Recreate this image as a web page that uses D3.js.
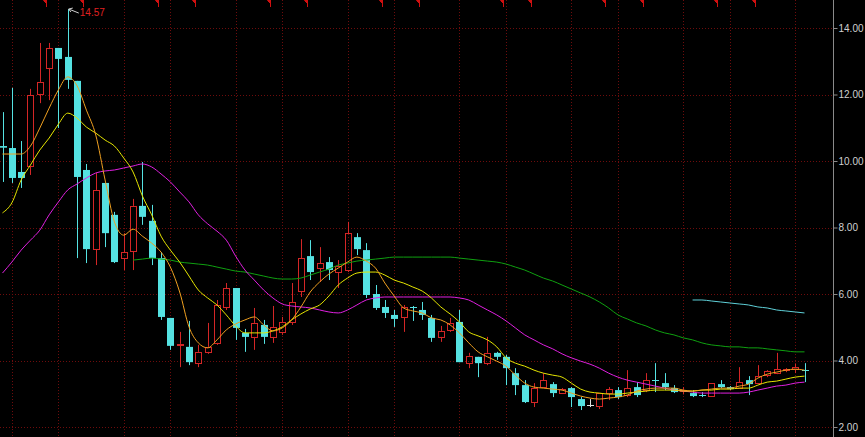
<!DOCTYPE html>
<html>
<head>
<meta charset="utf-8">
<script src="https://cdn.jsdelivr.net/npm/d3@7/dist/d3.min.js"></script>
<style>
html,body{margin:0;padding:0;background:#000;overflow:hidden;}
svg{display:block;}
</style>
</head>
<body>
<svg id="chart" width="865" height="437"></svg>
<script>
// ---------------- data ----------------
const openP  = [10.45,10.39,9.67,9.85,12.02,12.80,13.40,13.13,12.41,9.73,7.35,9.34,8.38,7.08,7.29,8.65,8.20,7.08,5.28,4.47,4.41,3.92,4.26,4.53,5.61,6.18,4.83,4.71,5.07,4.71,4.86,5.16,6.09,7.14,6.78,6.96,6.66,6.72,7.71,7.32,6.00,5.61,5.37,5.31,5.60,5.52,5.28,4.71,4.92,5.16,3.92,4.11,3.92,4.23,4.11,3.62,3.26,2.75,3.20,3.29,3.02,3.17,2.84,2.66,2.63,3.02,3.11,2.96,3.20,3.11,3.42,3.32,3.17,3.10,3.02,2.96,2.93,3.29,3.20,3.17,3.41,3.32,3.56,3.62,3.71,3.74,3.72];
const highP  = [11.47,12.20,10.60,12.17,13.55,13.55,13.40,14.57,12.41,9.91,9.64,9.34,8.47,7.83,8.86,9.97,8.68,7.26,5.28,4.86,5.19,4.47,5.13,5.82,6.33,6.18,4.95,5.58,5.22,5.64,5.31,6.33,7.65,7.62,7.41,7.11,7.02,8.17,7.83,7.53,6.27,5.82,5.52,5.67,5.64,5.76,5.37,5.04,5.28,5.52,4.23,4.11,4.71,4.26,4.17,3.77,3.41,3.32,3.62,3.35,3.17,3.20,2.90,2.84,3.02,3.20,3.20,3.71,3.35,3.62,3.92,3.62,3.26,3.20,3.11,3.05,3.32,3.41,3.23,3.80,3.53,3.86,3.71,4.23,3.77,3.90,3.92];
const lowP   = [9.37,9.34,9.19,9.58,11.74,11.83,10.99,12.17,7.08,6.93,6.87,7.41,6.93,6.72,6.72,8.08,6.87,5.22,4.32,3.80,3.86,3.80,4.20,4.47,5.52,4.62,4.26,4.32,4.50,4.53,4.77,5.07,5.91,6.42,6.36,6.42,6.18,6.66,7.17,5.88,5.52,5.28,5.01,4.86,5.19,5.22,4.56,4.56,4.86,3.95,3.77,3.50,3.86,4.02,3.26,2.96,2.72,2.60,3.17,2.90,3.00,2.60,2.51,2.60,2.54,2.81,2.84,2.90,2.90,3.05,3.05,3.11,3.02,2.98,2.90,2.90,2.93,3.17,3.11,3.17,2.96,3.32,3.50,3.59,3.65,3.62,3.35];
const closeP = [10.40,9.49,9.49,11.98,12.38,13.40,13.07,12.44,9.52,7.35,9.13,7.83,6.96,7.26,8.65,8.32,7.08,5.31,4.44,4.50,3.95,4.26,4.41,5.67,6.18,4.98,4.71,5.13,4.71,5.01,5.16,5.76,7.08,6.66,6.93,6.72,6.84,7.83,7.35,5.97,5.58,5.43,5.25,5.61,5.58,5.37,4.68,4.89,5.13,3.95,4.14,3.92,4.23,4.11,3.77,3.26,2.75,3.17,3.41,3.02,3.14,2.90,2.63,2.66,3.02,3.14,2.90,3.17,2.96,3.41,3.41,3.20,3.05,3.12,2.93,2.95,3.32,3.20,3.14,3.35,3.29,3.53,3.68,3.74,3.74,3.80,3.71];

const ma5  = [10.21,10.21,10.21,10.45,10.99,11.59,12.14,12.53,12.26,11.53,10.78,9.43,8.17,7.77,7.95,7.74,7.53,7.26,6.81,6.06,5.01,4.53,4.38,4.62,4.92,5.10,5.22,5.31,5.07,4.89,4.98,5.22,5.61,6.06,6.36,6.60,6.78,6.96,7.11,6.99,6.78,6.33,5.94,5.58,5.49,5.43,5.28,5.22,5.07,4.83,4.53,4.26,4.11,3.98,3.83,3.56,3.32,3.20,3.17,3.14,3.11,3.02,2.93,2.87,2.84,2.87,2.90,2.96,3.08,3.14,3.17,3.17,3.17,3.11,3.08,3.11,3.14,3.17,3.17,3.23,3.29,3.47,3.59,3.65,3.71,3.74,3.71];
const ma10 = [8.44,8.74,9.43,9.88,10.33,10.69,11.11,11.44,11.29,11.02,10.84,10.63,10.45,10.09,9.67,8.95,8.38,7.74,7.32,6.96,6.54,6.12,5.88,5.67,5.37,5.04,4.83,4.83,4.83,4.89,5.01,5.22,5.40,5.55,5.67,5.94,6.27,6.48,6.63,6.66,6.66,6.57,6.42,6.33,6.21,6.09,5.88,5.61,5.40,5.16,4.86,4.74,4.62,4.41,4.08,3.92,3.83,3.71,3.62,3.56,3.50,3.32,3.14,3.05,3.02,2.99,2.99,3.02,3.05,3.08,3.11,3.11,3.11,3.08,3.08,3.11,3.11,3.14,3.14,3.17,3.17,3.26,3.35,3.38,3.44,3.50,3.53];
const ma20 = [6.63,6.96,7.32,7.62,7.92,8.38,8.77,9.13,9.31,9.49,9.64,9.70,9.73,9.79,9.85,9.91,9.82,9.61,9.37,9.07,8.77,8.38,8.11,7.89,7.62,7.14,6.72,6.42,6.12,5.88,5.70,5.64,5.61,5.58,5.52,5.46,5.43,5.52,5.67,5.82,5.88,5.91,5.91,5.91,5.91,5.91,5.91,5.91,5.91,5.88,5.82,5.67,5.52,5.37,5.19,4.98,4.77,4.62,4.47,4.35,4.20,4.08,3.98,3.89,3.77,3.62,3.50,3.41,3.35,3.29,3.23,3.17,3.11,3.08,3.05,3.02,3.02,3.02,3.02,3.02,3.05,3.11,3.17,3.23,3.26,3.32,3.35];
const ma60 = [null,null,null,null,null,null,null,null,null,null,null,null,null,null,7.02,7.05,7.08,7.05,7.02,6.96,6.93,6.90,6.87,6.81,6.75,6.69,6.66,6.60,6.54,6.48,6.45,6.45,6.48,6.57,6.66,6.75,6.87,6.93,6.99,7.02,7.05,7.08,7.11,7.11,7.11,7.11,7.11,7.11,7.11,7.08,7.05,7.02,6.99,6.96,6.90,6.81,6.72,6.60,6.48,6.39,6.27,6.15,6.03,5.91,5.76,5.58,5.37,5.25,5.13,5.04,4.92,4.83,4.77,4.68,4.62,4.53,4.47,4.44,4.41,4.41,4.38,4.38,4.35,4.32,4.29,4.26,4.26];
const ma120 = [null,null,null,null,null,null,null,null,null,null,null,null,null,null,null,null,null,null,null,null,null,null,null,null,null,null,null,null,null,null,null,null,null,null,null,null,null,null,null,null,null,null,null,null,null,null,null,null,null,null,null,null,null,null,null,null,null,null,null,null,null,null,null,null,null,null,null,null,null,null,null,null,null,null,5.82,5.82,5.79,5.76,5.73,5.70,5.67,5.61,5.58,5.52,5.49,5.46,5.43];

const yTicks = [2, 4, 6, 8, 10, 12, 14];
const gridIdx = [1, 6, 13, 18, 25, 30, 37, 42, 49, 54, 61, 66, 73, 78, 85];
const markerIdx = [4, 8, 16, 20, 28, 32, 40, 44, 53, 56, 64, 68, 76, 80];
const peakIdx = 7;
const peakLabel = "14.57";

// ---------------- drawing ----------------
const W = 865, H = 437, axisX = 833;
const svg = d3.select("#chart");
const idx = d3.range(openP.length);
const x = d3.scaleLinear().domain([0, openP.length - 1]).range([2.5, 804.5]);
const y = d3.scaleLinear().domain([2, 14]).range([427, 28]);

svg.append("rect").attr("width", W).attr("height", H).attr("fill", "#000");

const grid = svg.append("g").attr("stroke", "#6e0c0c").attr("stroke-width", 1).attr("stroke-dasharray", "1,2");
grid.selectAll("line.h").data(yTicks).join("line").attr("class", "h")
  .attr("x1", 0).attr("x2", axisX).attr("y1", d => Math.round(y(d)) + 0.5).attr("y2", d => Math.round(y(d)) + 0.5);
grid.selectAll("line.v").data(gridIdx).join("line").attr("class", "v")
  .attr("y1", 0).attr("y2", H).attr("x1", d => Math.round(x(d)) + 0.5).attr("x2", d => Math.round(x(d)) + 0.5);

// info markers
svg.append("g").selectAll("path").data(markerIdx).join("path")
  .attr("d", d => { const c = Math.round(x(d)) + 6.5; return `M${c - 3},0.5 L${c},0.5 L${c},3.5 Z M${c},0 L${c},7`; })
  .attr("fill", "#d01010").attr("stroke", "#d01010").attr("stroke-width", 1);

// candles
const UP = "#d42626", DN = "#55e2e2", EQ = "#e0e0e0";
const bw = 7;
const cg = svg.append("g");
idx.forEach(i => {
  const o = openP[i], c = closeP[i], h = highP[i], l = lowP[i];
  const col = c > o ? UP : (c < o ? DN : EQ);
  const cx = Math.round(x(i)) + 0.5;
  const top = y(Math.max(o, c)), bot = y(Math.min(o, c));
  const g = cg.append("g");
  if (c > o) {
    g.append("line").attr("x1", cx).attr("x2", cx).attr("y1", y(h)).attr("y2", top).attr("stroke", col);
    g.append("line").attr("x1", cx).attr("x2", cx).attr("y1", bot).attr("y2", y(l)).attr("stroke", col);
    g.append("rect").attr("x", cx - 3).attr("y", Math.round(top) + 0.5).attr("width", bw - 1)
      .attr("height", Math.max(1, Math.round(bot - top))).attr("fill", "none").attr("stroke", col);
  } else {
    g.append("line").attr("x1", cx).attr("x2", cx).attr("y1", y(h)).attr("y2", y(l)).attr("stroke", col);
    if (bot - top < 1.5) {
      g.append("line").attr("x1", cx - 3.5).attr("x2", cx + 3.5).attr("y1", Math.round(top) + 0.5).attr("y2", Math.round(top) + 0.5).attr("stroke", col);
    } else {
      g.append("rect").attr("x", cx - 3.5).attr("y", top).attr("width", bw).attr("height", bot - top).attr("fill", col);
    }
  }
});

// moving averages
const line = d3.line().defined(d => d != null).x((d, i) => x(i)).y(d => y(d)).curve(d3.curveMonotoneX);
const maDefs = [
  { data: ma120, color: "#5fd0d8" },
  { data: ma60, color: "#0fa010" },
  { data: ma20, color: "#e020e0" },
  { data: ma10, color: "#e6e600" },
  { data: ma5, color: "#f0a020" }
];
svg.append("g").selectAll("path").data(maDefs).join("path")
  .attr("d", d => line(d.data)).attr("fill", "none").attr("stroke", d => d.color).attr("stroke-width", 1);

// peak annotation
const px = x(peakIdx), py = y(highP[peakIdx]);
const ann = svg.append("g");
ann.append("line").attr("x1", px + 1).attr("y1", py).attr("x2", px + 11).attr("y2", py + 4).attr("stroke", "#d0d0d0");
ann.append("path").attr("d", `M${px + 1},${py} l4,-1 M${px + 1},${py} l2,3`).attr("stroke", "#d0d0d0").attr("fill", "none");
ann.append("text").attr("x", px + 12).attr("y", py + 7).attr("fill", "#e02020")
  .attr("font-family", "Liberation Sans, Arial, sans-serif").attr("font-size", 10).text(peakLabel);

// y axis
svg.append("line").attr("x1", axisX + 0.5).attr("x2", axisX + 0.5).attr("y1", 0).attr("y2", H).attr("stroke", "#8a8a8a");
const ax = svg.append("g").attr("transform", `translate(${axisX + 0.5},0)`)
  .call(d3.axisRight(y).tickValues(yTicks).tickSize(4).tickPadding(1).tickFormat(d3.format(".2f")));
ax.select(".domain").remove();
ax.selectAll(".tick line").attr("stroke", "#8a8a8a");
ax.selectAll(".tick text").attr("fill", "#d0d0d0").attr("font-family", "Liberation Sans, Arial, sans-serif").attr("font-size", 10);
</script>
</body>
</html>
